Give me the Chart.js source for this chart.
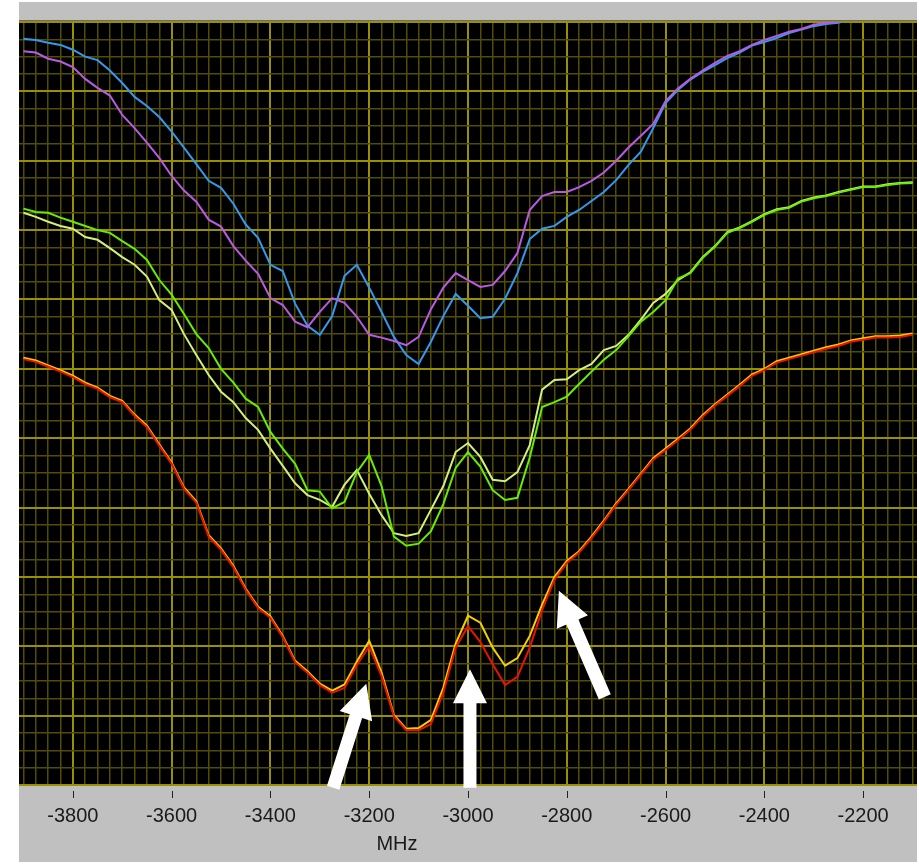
<!DOCTYPE html>
<html>
<head>
<meta charset="utf-8">
<script src="https://cdn.jsdelivr.net/npm/chart.js@4.4.1/dist/chart.umd.min.js"></script>
<style>
    html, body { margin: 0; padding: 0; background: #fff; }
    #wrap { position: relative; width: 919px; height: 864px; }
</style>
</head>
<body>
<div id="wrap"><canvas id="spectrum" width="919" height="864"></canvas></div>
<script>
// ─── data (level in dB, 10 dB per major division) ──────────────────────────

const FREQ_MHZ = [
    -3900, -3875, -3850, -3825, -3800, -3775, -3750, -3725, -3700, -3675,
    -3650, -3625, -3600, -3575, -3550, -3525, -3500, -3475, -3450, -3425,
    -3400, -3375, -3350, -3325, -3300, -3275, -3250, -3225, -3200, -3175,
    -3150, -3125, -3100, -3075, -3050, -3025, -3000, -2975, -2950, -2925,
    -2900, -2875, -2850, -2825, -2800, -2775, -2750, -2725, -2700, -2675,
    -2650, -2625, -2600, -2575, -2550, -2525, -2500, -2475, -2450, -2425,
    -2400, -2375, -2350, -2325, -2300, -2275, -2250, -2225, -2200, -2175,
    -2150, -2125, -2100
];

const BLUE = [
    107.6, 107.4, 107.0, 106.7, 106.0, 105.0, 104.5, 103.0, 101.2, 99.2,
    97.9, 96.3, 94.2, 91.9, 89.5, 87.1, 86.1, 83.8, 80.8, 78.9,
    75.0, 74.1, 69.4, 66.2, 64.9, 67.6, 73.4, 75.0, 71.7, 68.2,
    64.6, 62.0, 60.7, 63.9, 67.6, 70.8, 69.1, 67.3, 67.5, 70.1,
    73.8, 78.7, 80.2, 80.6, 81.9, 82.9, 84.2, 85.5, 87.2, 89.4,
    91.3, 94.7, 98.3, 100.2, 101.7, 102.8, 103.8, 104.8, 105.6, 106.6,
    107.1, 107.7, 108.4, 108.9, 109.4, 109.7, 109.9, 110.4, 111.0, null,
    null, null, null
];

const VIOLET = [
    105.8, 105.6, 104.7, 104.3, 103.5, 101.8, 100.5, 99.4, 96.6, 94.7,
    92.6, 90.4, 87.8, 85.7, 84.1, 81.5, 80.5, 77.7, 75.6, 73.7,
    70.2, 69.2, 66.8, 66.0, 68.2, 70.2, 69.5, 67.5, 64.9, 64.5,
    64.0, 63.4, 64.6, 68.6, 71.7, 73.8, 72.8, 71.8, 72.1, 74.1,
    76.7, 82.9, 84.9, 85.5, 85.5, 86.2, 87.1, 88.3, 90.0, 91.9,
    93.6, 95.3, 98.6, 100.4, 101.8, 103.0, 104.1, 105.1, 105.8, 106.7,
    107.4, 108.0, 108.6, 109.0, 109.6, 109.9, 110.0, 110.5, 111.2, null,
    null, null, null
];

const GREEN = [
    83.1, 82.6, 82.5, 81.8, 81.2, 80.6, 80.0, 79.6, 78.4, 77.3,
    75.7, 72.8, 70.7, 67.9, 65.0, 63.0, 60.0, 58.0, 55.7, 54.5,
    50.9, 48.5, 46.3, 42.5, 42.3, 39.9, 40.8, 45.1, 47.6, 43.1,
    35.8, 34.5, 34.8, 36.6, 40.5, 45.7, 48.0, 45.9, 42.5, 41.1,
    41.4, 47.2, 54.5, 55.2, 56.0, 57.8, 59.6, 61.3, 62.7, 64.7,
    66.8, 68.2, 69.9, 73.0, 73.8, 76.0, 77.6, 79.6, 80.3, 81.2,
    82.2, 82.9, 83.2, 84.1, 84.6, 84.9, 85.4, 85.8, 86.2, 86.2,
    86.5, 86.7, 86.8
];

const PALE = [
    82.5, 81.9, 81.2, 80.6, 80.2, 79.0, 78.6, 77.4, 76.1, 75.0,
    73.3, 69.9, 68.5, 65.0, 62.0, 59.1, 56.7, 55.2, 52.9, 51.2,
    48.5, 46.0, 43.5, 41.8, 41.1, 40.1, 43.3, 45.4, 42.0, 38.9,
    36.3, 35.9, 36.3, 39.7, 43.1, 48.0, 49.3, 47.3, 44.0, 43.8,
    45.1, 49.0, 57.0, 58.4, 58.5, 59.8, 60.7, 62.7, 63.3, 64.9,
    67.1, 69.5, 70.8, 72.8, 73.9, 76.1, 77.7, 79.7, 80.4, 81.3,
    82.3, 83.0, 83.3, 84.2, 84.7, 85.0, 85.5, 85.9, 86.3, 86.3,
    86.6, 86.8, 86.9
];

const RED = [
    61.4, 61.0, 60.3, 59.6, 58.8, 57.8, 57.1, 55.9, 55.2, 53.2,
    51.6, 48.9, 46.3, 42.7, 40.7, 35.8, 33.9, 31.4, 28.1, 25.5,
    24.1, 21.3, 17.7, 16.2, 14.4, 13.3, 14.0, 17.3, 20.0, 15.7,
    9.9, 7.9, 7.9, 8.8, 13.3, 19.8, 22.9, 20.6, 17.4, 14.4,
    15.6, 19.8, 25.2, 29.6, 32.0, 33.5, 35.6, 37.9, 40.4, 42.5,
    44.7, 46.9, 48.3, 49.7, 51.2, 53.1, 54.7, 56.1, 57.5, 59.0,
    59.8, 60.9, 61.4, 61.9, 62.4, 62.9, 63.3, 63.9, 64.2, 64.5,
    64.5, 64.6, 64.9
];

const YELLOW = [
    61.6, 61.2, 60.5, 59.8, 59.0, 58.0, 57.3, 56.1, 55.4, 53.4,
    51.8, 49.1, 46.5, 42.9, 40.9, 36.0, 34.1, 31.6, 28.3, 25.7,
    24.3, 21.5, 17.9, 16.4, 14.6, 13.6, 14.5, 17.8, 20.8, 16.2,
    10.1, 8.1, 8.2, 9.4, 14.0, 20.4, 24.4, 23.4, 19.8, 17.2,
    18.3, 21.5, 26.0, 30.0, 32.3, 33.7, 35.8, 38.1, 40.6, 42.7,
    44.9, 47.1, 48.5, 49.9, 51.4, 53.3, 54.9, 56.3, 57.7, 59.2,
    60.0, 61.1, 61.6, 62.1, 62.6, 63.1, 63.5, 64.1, 64.4, 64.7,
    64.7, 64.8, 65.1
];

// annotation arrows: tail -> tip, in MHz / dB
const ARROWS = [
    {fromMHz: -3273, fromDb: -0.4, toMHz: -3206, toDb: 14.6},
    {fromMHz: -2996, fromDb: -0.4, toMHz: -2996, toDb: 16.7},
    {fromMHz: -2723, fromDb: 12.7, toMHz: -2816, toDb: 28.0},
];

const X_MIN = -3909, X_MAX = -2091;
const Y_MIN = 0, Y_MAX = 110;
const X_STEP = 25, X_MAJOR = 200;
const Y_STEP = 2.5, Y_MAJOR = 10;

const MINOR = '#524d05';
const MAJOR = '#989000';
const FONT = 'Liberation Sans, Arial, sans-serif';

// ─── grid helpers ──────────────────────────────────────────────────────────

function gridValues(lo, hi, step) {
    const out = [];
    for (let v = Math.ceil(lo / step) * step; v <= hi + 1e-9; v += step) out.push(+v.toFixed(3));
    return out;
}

const isMajor = (v, every) => Math.abs(v / every - Math.round(v / every)) < 1e-6;

const gridColor = every => c => (c.tick && isMajor(c.tick.value, every) ? MAJOR : MINOR);
const gridWidth = every => c => (c.tick && isMajor(c.tick.value, every) ? 2 : 1.5);

// ─── plugins ───────────────────────────────────────────────────────────────

const framePlugin = {
    id: 'frame',
    beforeDraw(chart) {
        const {ctx, chartArea: a} = chart;
        ctx.save();
        ctx.fillStyle = '#fff';
        ctx.fillRect(0, 0, chart.width, chart.height);
        ctx.fillStyle = '#c0c0c0';
        ctx.fillRect(a.left, 2, a.right - a.left, a.top - 2);
        ctx.fillRect(a.left, a.bottom, a.right - a.left, 862 - a.bottom);
        ctx.fillStyle = '#6b6b6b';
        ctx.fillRect(a.left, a.top - 2, a.right - a.left, 2);
        ctx.fillStyle = '#000';
        ctx.fillRect(a.left, a.top, a.right - a.left, a.bottom - a.top);
        ctx.restore();
    },
    afterDatasetsDraw(chart) {
        const {ctx, scales: {x, y}} = chart;
        ctx.save();
        ctx.fillStyle = '#fff';
        ARROWS.forEach(ar => {
            const x0 = x.getPixelForValue(ar.fromMHz), y0 = y.getPixelForValue(ar.fromDb);
            const x1 = x.getPixelForValue(ar.toMHz), y1 = y.getPixelForValue(ar.toDb);
            const len = Math.hypot(x1 - x0, y1 - y0);
            const ux = (x1 - x0) / len, uy = (y1 - y0) / len;
            const nx = -uy, ny = ux;
            const head = 34, hw = 17, sw = 6.5;
            const bx = x1 - ux * head, by = y1 - uy * head;
            ctx.beginPath();
            ctx.moveTo(x0 + nx * sw, y0 + ny * sw);
            ctx.lineTo(bx + nx * sw, by + ny * sw);
            ctx.lineTo(bx + nx * hw, by + ny * hw);
            ctx.lineTo(x1, y1);
            ctx.lineTo(bx - nx * hw, by - ny * hw);
            ctx.lineTo(bx - nx * sw, by - ny * sw);
            ctx.lineTo(x0 - nx * sw, y0 - ny * sw);
            ctx.closePath();
            ctx.fill();
        });
        ctx.restore();
    },
    afterDraw(chart) {
        const {ctx, chartArea: a, scales: {x}} = chart;
        ctx.save();
        ctx.fillStyle = '#222';
        gridValues(X_MIN, X_MAX, X_MAJOR).forEach(v => {
            ctx.fillRect(Math.round(x.getPixelForValue(v)), a.bottom + 6, 1, 7);
        });
        ctx.fillStyle = '#1a1a1a';
        ctx.font = `20px ${FONT}`;
        ctx.textAlign = 'center';
        ctx.textBaseline = 'middle';
        ctx.fillText('MHz', 397, a.bottom + 59);
        ctx.restore();
    },
};

// ─── chart ─────────────────────────────────────────────────────────────────

const toPoints = arr => FREQ_MHZ
    .map((f, i) => ({x: f, y: arr[i]}))
    .filter(p => p.y !== null);

const SERIES = [
    {label: 'violet', data: VIOLET, color: '#b95ae6'},
    {label: 'blue', data: BLUE, color: '#3399ee'},
    {label: 'green', data: GREEN, color: '#66ee00'},
    {label: 'pale', data: PALE, color: '#d2ef7c'},
    {label: 'red', data: RED, color: '#ee1100'},
    {label: 'yellow', data: YELLOW, color: '#f2d000'},
];

new Chart(document.getElementById('spectrum'), {
    type: 'line',
    data: {
        datasets: SERIES.map(s => ({
            label: s.label,
            data: toPoints(s.data),
            borderColor: s.color,
            borderWidth: 2,
            pointRadius: 0,
            tension: 0,
            fill: false,
        })),
    },
    options: {
        responsive: false,
        animation: false,
        devicePixelRatio: 1,
        layout: {padding: {top: 22, right: 2, left: 0, bottom: 0}},
        plugins: {legend: {display: false}, tooltip: {enabled: false}},
        scales: {
            x: {
                type: 'linear',
                min: X_MIN,
                max: X_MAX,
                afterBuildTicks: s => { s.ticks = gridValues(X_MIN, X_MAX, X_STEP).map(v => ({value: v})); },
                afterFit: s => {
                    s.height = 79;
                    s.paddingLeft = 0;
                    s.paddingRight = 0;
                },
                border: {display: false},
                grid: {drawTicks: false, color: gridColor(X_MAJOR), lineWidth: gridWidth(X_MAJOR)},
                ticks: {
                    autoSkip: false,
                    maxRotation: 0,
                    padding: 19,
                    color: '#1a1a1a',
                    font: {family: FONT, size: 20},
                    callback: v => (isMajor(v, X_MAJOR) ? String(v) : ''),
                },
            },
            y: {
                type: 'linear',
                min: Y_MIN,
                max: Y_MAX,
                afterBuildTicks: s => { s.ticks = gridValues(Y_MIN, Y_MAX, Y_STEP).map(v => ({value: v})); },
                afterFit: s => {
                    s.width = 19;
                    s.paddingTop = 0;
                    s.paddingBottom = 0;
                },
                border: {display: false},
                grid: {drawTicks: false, color: gridColor(Y_MAJOR), lineWidth: gridWidth(Y_MAJOR)},
                ticks: {display: false},
            },
        },
    },
    plugins: [framePlugin],
});
</script>
</body>
</html>
